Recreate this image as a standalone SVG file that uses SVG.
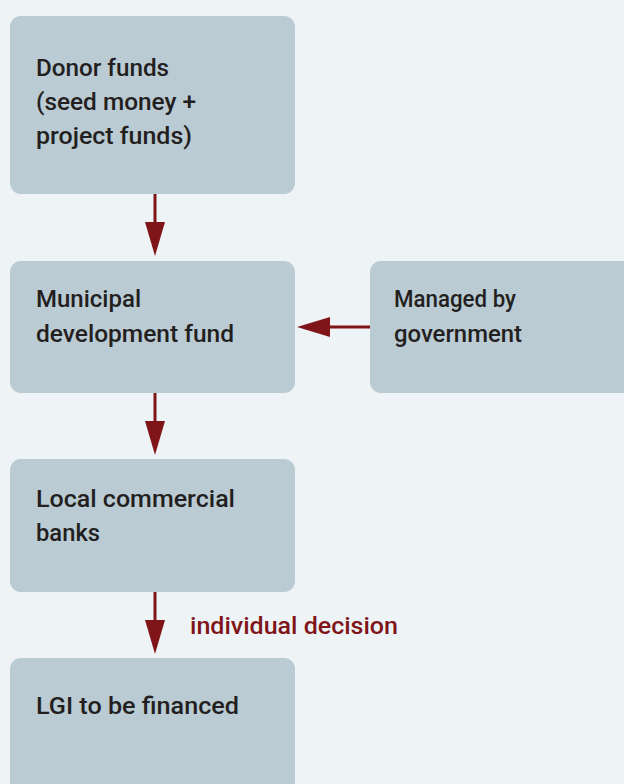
<svg xmlns="http://www.w3.org/2000/svg" width="624" height="784" viewBox="0 0 624 784">
<defs>
<style>
.box{fill:#bacbd3;}
.t{font-family:Roboto,"DejaVu Sans",sans-serif;font-weight:500;font-size:24px;fill:#231f20;}
.lbl{font-family:Roboto,"DejaVu Sans",sans-serif;font-weight:500;font-size:24px;fill:#7f1518;}
.c{stroke:#7f1518;stroke-width:3;fill:none;}
.h{fill:#7f1518;}
</style>
</defs>
<rect width="624" height="784" fill="#eef3f6"/>
<g id="n1"><rect class="box" x="10" y="16" width="285" height="178" rx="11"/>
<text class="t" x="36" y="76" textLength="133" lengthAdjust="spacingAndGlyphs">Donor funds</text>
<text class="t" x="36" y="110" textLength="160" lengthAdjust="spacingAndGlyphs">(seed money +</text>
<text class="t" x="36" y="144" textLength="156" lengthAdjust="spacingAndGlyphs">project funds)</text></g>
<g id="n2"><rect class="box" x="10" y="261" width="285" height="132" rx="11"/>
<text class="t" x="36" y="307" textLength="105" lengthAdjust="spacingAndGlyphs">Municipal</text>
<text class="t" x="36" y="342" textLength="198" lengthAdjust="spacingAndGlyphs">development fund</text></g>
<g id="n3"><rect class="box" x="370" y="261" width="270" height="132" rx="11"/>
<text class="t" x="394" y="307" textLength="122" lengthAdjust="spacingAndGlyphs">Managed by</text>
<text class="t" x="394" y="342" textLength="128" lengthAdjust="spacingAndGlyphs">government</text></g>
<g id="n4"><rect class="box" x="10" y="459" width="285" height="133" rx="11"/>
<text class="t" x="36" y="507" textLength="199" lengthAdjust="spacingAndGlyphs">Local commercial</text>
<text class="t" x="36" y="541" textLength="64" lengthAdjust="spacingAndGlyphs">banks</text></g>
<g id="n5"><rect class="box" x="10" y="658" width="285" height="140" rx="11"/>
<text class="t" x="36" y="714" textLength="203" lengthAdjust="spacingAndGlyphs">LGI to be financed</text></g>
<g id="connectors">
<line class="c" x1="155" y1="194" x2="155" y2="225"/>
<polygon class="h" points="145,222 165,222 155,256"/>
<line class="c" x1="155" y1="393" x2="155" y2="424"/>
<polygon class="h" points="145,421 165,421 155,455"/>
<line class="c" x1="155" y1="592" x2="155" y2="622"/>
<polygon class="h" points="145,620 165,620 155,654"/>
<line class="c" x1="370" y1="327" x2="328" y2="327"/>
<polygon class="h" points="330,317 330,337 297,327"/>
<text class="lbl" x="190" y="634" textLength="208" lengthAdjust="spacingAndGlyphs">individual decision</text>
</g>
</svg>
